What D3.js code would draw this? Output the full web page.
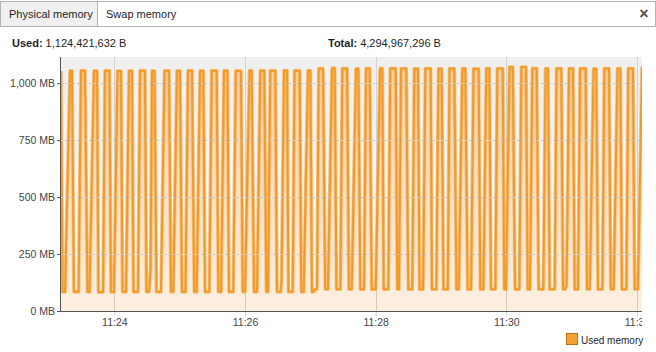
<!DOCTYPE html>
<html>
<head>
<meta charset="utf-8">
<script src="https://cdn.jsdelivr.net/npm/d3@7"></script>
<style>
  body { margin: 0; background: #fff; }
  svg { display: block; font-family: Tahoma, "Liberation Sans", Arial, sans-serif; }
</style>
</head>
<body>
<svg id="chart" width="656" height="352"></svg>
<script>
// samples: seconds after 11:23:11, one row per sawtooth cycle
const startTime = new Date(2024, 0, 1, 11, 23, 11);
const seconds = [
  0,
  1.4, 3.7, 8.3, 10.1,
  11.9, 16.1, 18.4, 22.0,
  24.3, 26.2, 30.3, 33.1,
  34.4, 38.6, 40.4, 44.5,
  45.9, 48.7, 51.9, 55.1,
  56.5, 59.7, 62.5, 65.2,
  66.6, 70.7, 72.6, 77.1,
  78.5, 80.8, 82.2, 83.6, 85.9,
  87.7, 91.8, 95.1, 99.2,
  101.0, 103.1, 106.5, 109.3,
  111.1, 114.3, 116.6, 120.3,
  122.4, 124.6, 127.7, 130.7,
  132.3, 136.2, 138.4, 143.0,
  144.5, 147.0, 149.7, 152.9,
  154.3, 158.2, 160.5, 165.3,
  166.9, 169.0, 173.1, 175.1,
  177.3, 180.0, 183.0, 186.7,
  188.6, 190.1, 192.2, 196.8,
  198.4, 201.6, 202.5, 204.8, 207.6,
  208.9, 212.8, 214.5, 219.2,
  220.7, 222.9, 226.8, 229.0,
  230.5, 232.4, 233.3, 235.1, 236.7, 240.6,
  242.7, 245.2, 248.9, 251.4,
  253.0, 256.5, 258.4, 262.7,
  264.5, 267.0, 270.9, 273.1,
  274.9, 278.3, 280.1, 283.5,
  285.4, 289.0, 293.0, 295.1,
  296.4, 300.6, 302.4, 307.4,
  308.9, 310.4, 312.3, 317.1,
  319.0, 322.6, 324.5, 327.9,
  329.3, 332.5, 334.6, 339.5,
  340.7, 344.7, 346.7, 349.6,
  351.3, 355.2, 356.8, 361.2,
  363.2, 365.3, 368.6, 371.3,
  373.5, 376.6, 378.9, 383.6,
  385.1, 387.9, 390.6, 393.4,
  394.9, 398.9, 400.7, 405.7,
  407.1, 408.7, 411.9, 414.9,
  417.0, 420.9, 422.8, 427.1,
  428.6, 430.7, 432.9, 436.9,
  438.7, 443.0, 445.0, 447.3,
  448.8, 453.4, 455.1, 459.5,
  461.1, 462.9, 464.3, 466.6, 470.2,
  471.8, 474.8, 476.7, 481.9,
  483.1, 485.6, 489.1, 491.6,
  493.2, 497.2, 499.0, 503.3,
  504.9, 507.6, 511.1, 513.7,
  515.2, 519.2, 521.0, 525.3,
  526.9, 529.9, 533.6
];
// used memory, MB
const usedMB = [
  1054,
  84, 84, 1054, 1054,
  84, 84, 1055, 1055,
  84, 84, 1054, 1054,
  83, 83, 1055, 1055,
  84, 84, 1053, 1053,
  84, 84, 1054, 1054,
  84, 84, 1055, 1055,
  84, 84, 180, 1054, 1054,
  84, 84, 1055, 1055,
  84, 84, 1054, 1054,
  84, 84, 1055, 1055,
  84, 84, 1054, 1054,
  84, 84, 1055, 1055,
  84, 84, 1055, 1055,
  84, 84, 1054, 1054,
  84, 84, 1056, 1056,
  84, 84, 1055, 1055,
  84, 84, 1055, 1055,
  84, 84, 130, 1056, 1056,
  84, 84, 1055, 1055,
  84, 84, 1056, 1056,
  84, 85, 95, 95, 1064, 1064,
  96, 96, 1066, 1066,
  96, 96, 1064, 1064,
  96, 96, 1063, 1063,
  96, 96, 1064, 1064,
  96, 96, 1065, 1065,
  96, 96, 1064, 1064,
  96, 96, 1064, 1064,
  96, 96, 1063, 1063,
  96, 96, 1064, 1064,
  96, 96, 1063, 1063,
  96, 96, 1064, 1064,
  96, 96, 1064, 1064,
  96, 96, 1063, 1063,
  96, 96, 1064, 1064,
  96, 96, 1064, 1064,
  96, 96, 1071, 1071,
  96, 96, 1071, 1071,
  96, 96, 1065, 1065,
  96, 96, 1064, 1064,
  96, 96, 1064, 1064,
  96, 96, 110, 1064, 1064,
  96, 96, 1064, 1064,
  96, 96, 1063, 1063,
  96, 96, 1064, 1064,
  96, 96, 1064, 1064,
  96, 96, 1064, 1064,
  96, 96, 1072
];
const yTicks = [0, 250, 500, 750, 1000];
const yMax = 1115;
const tabNames = ['Physical memory', 'Swap memory'];
const usedBytes = 1124421632;
const totalBytes = 4294967296;
const seriesName = 'Used memory';

const svg = d3.select('#chart');
const margin = { top: 57, right: 14, bottom: 41, left: 61 };
const width = 656 - margin.left - margin.right;
const height = 352 - margin.top - margin.bottom;

const data = seconds.map((s, i) => ({ t: d3.timeMillisecond.offset(startTime, s * 1000), v: usedMB[i] }));

const x = d3.scaleTime().domain(d3.extent(data, d => d.t)).range([0, width]);
const y = d3.scaleLinear().domain([0, yMax]).range([height, 0]);

// tab strip
const tabs = svg.append('g');
tabs.append('rect').attr('x', 0.5).attr('y', 1.5).attr('width', 655).attr('height', 25)
  .attr('fill', '#fff').attr('stroke', '#b4b4b4');
tabs.append('rect').attr('x', 0.5).attr('y', 1.5).attr('width', 97).attr('height', 25)
  .attr('fill', '#f0f0f0').attr('stroke', '#b4b4b4');
tabs.selectAll('text.tab').data(tabNames).enter().append('text')
  .attr('class', 'tab')
  .attr('x', (d, i) => i === 0 ? 9 : 106)
  .attr('y', 18)
  .attr('font-size', 11)
  .attr('fill', '#1e1e1e')
  .text(d => d);
tabs.append('text').attr('x', 644).attr('y', 18.5).attr('text-anchor', 'middle')
  .attr('font-size', 16).attr('font-weight', 'bold').attr('fill', '#505050').text('\u00d7');

// header numbers
const fmt = d3.format(',');
const header = svg.append('g').attr('font-size', 11).attr('fill', '#1e1e1e');
const usedText = header.append('text').attr('x', 12).attr('y', 47);
usedText.append('tspan').attr('font-weight', 'bold').text('Used:');
usedText.append('tspan').text(' ' + fmt(usedBytes) + ' B');
const totalText = header.append('text').attr('x', 328).attr('y', 47);
totalText.append('tspan').attr('font-weight', 'bold').text('Total:');
totalText.append('tspan').text(' ' + fmt(totalBytes) + ' B');

const defs = svg.append('defs');
const bg = defs.append('linearGradient').attr('id', 'bg').attr('x1', 0).attr('y1', 0).attr('x2', 0).attr('y2', 1);
bg.append('stop').attr('offset', '0%').attr('stop-color', '#efefef');
bg.append('stop').attr('offset', '100%').attr('stop-color', '#fdfdfd');
const fill = defs.append('linearGradient').attr('id', 'fill').attr('x1', 0).attr('y1', 0).attr('x2', 0).attr('y2', 1);
fill.append('stop').attr('offset', '0%').attr('stop-color', '#f5962a').attr('stop-opacity', 0.33);
fill.append('stop').attr('offset', '100%').attr('stop-color', '#f5962a').attr('stop-opacity', 0.13);
defs.append('clipPath').attr('id', 'plotclip').append('rect')
  .attr('x', 0).attr('y', -2).attr('width', width).attr('height', height + 40);

const g = svg.append('g').attr('transform', `translate(${margin.left},${margin.top})`);

g.append('rect').attr('width', width).attr('height', height).attr('fill', 'url(#bg)');

// grid
g.append('g').selectAll('line').data(x.ticks(d3.timeMinute.every(2))).enter().append('line')
  .attr('x1', d => Math.round(x(d)) + 0.5).attr('x2', d => Math.round(x(d)) + 0.5)
  .attr('y1', 0).attr('y2', height)
  .attr('stroke', '#d2d2d2');

const area = d3.area().x(d => x(d.t)).y0(height).y1(d => y(d.v));
const line = d3.line().x(d => x(d.t)).y(d => y(d.v));

const plot = g.append('g').attr('clip-path', 'url(#plotclip)');
plot.append('path').datum(data).attr('d', area).attr('fill', 'url(#fill)');

g.append('g').selectAll('line').data(yTicks.filter(d => d > 0)).enter().append('line')
  .attr('x1', 0).attr('x2', width)
  .attr('y1', d => Math.round(y(d)) + 0.5).attr('y2', d => Math.round(y(d)) + 0.5)
  .attr('stroke', '#c4c4c4').attr('stroke-dasharray', '2,2');

plot.append('path').datum(data).attr('d', line)
  .attr('fill', 'none').attr('stroke', '#f7b668').attr('stroke-width', 3.6)
  .attr('stroke-linejoin', 'round').attr('opacity', 0.8);
plot.append('path').datum(data).attr('d', line)
  .attr('fill', 'none').attr('stroke', '#f39a26').attr('stroke-width', 2)
  .attr('stroke-linejoin', 'round');

// axes
const xAxis = g.append('g')
  .attr('transform', `translate(0,${height})`)
  .attr('clip-path', 'url(#plotclip)')
  .call(d3.axisBottom(x).ticks(d3.timeMinute.every(2)).tickFormat(d3.timeFormat('%H:%M')).tickSize(5).tickPadding(3));
xAxis.select('.domain').remove();
xAxis.selectAll('.tick line').attr('stroke', '#cfcfcf');
xAxis.selectAll('.tick text').attr('fill', '#444').attr('font-size', 10.5).attr('font-family', null);

const yAxis = g.append('g')
  .call(d3.axisLeft(y).tickValues(yTicks).tickFormat(d => fmt(d) + ' MB').tickSize(4).tickPadding(2));
yAxis.select('.domain').remove();
yAxis.selectAll('.tick line').attr('stroke', '#555');
yAxis.selectAll('.tick text').attr('fill', '#444').attr('font-size', 10.5).attr('font-family', null);

g.append('line').attr('x1', -0.5).attr('x2', -0.5).attr('y1', 0).attr('y2', height).attr('stroke', '#555');
g.append('line').attr('x1', -0.5).attr('x2', width).attr('y1', height + 0.5).attr('y2', height + 0.5).attr('stroke', '#555');

// legend
const legend = svg.append('g').attr('transform', 'translate(566,333)');
legend.append('rect').attr('x', 0.5).attr('y', 0.5).attr('width', 11).attr('height', 11)
  .attr('fill', '#f5a033').attr('stroke', '#bd7416');
legend.append('text').attr('x', 15).attr('y', 10.5).attr('font-size', 10).attr('fill', '#1e1e1e').text(seriesName);
</script>
</body>
</html>
